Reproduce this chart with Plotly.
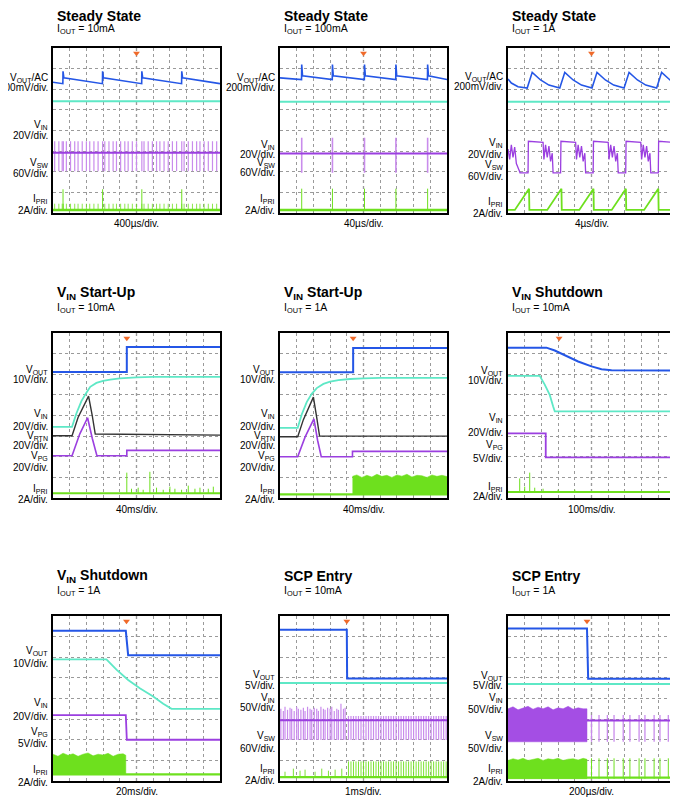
import plotly.graph_objects as go

OFF = 8  # page body margin
W, H = 678 - OFF, 800 - OFF
COLS = [(53, 220), (280, 447), (508, 675)]
ROWS = [(48, 213), (333, 498), (616, 781)]

BLUE = "#2456e6"; CYAN = "#5ee8c6"; PURPLE = "#9b3fe0"; LPURPLE = "#c98cec"
GREEN = "#6ee01e"; BLACK = "#333333"; ORANGE = "#f06a2a"

# ---------- data (in scope divisions: x 0..10, y 0..8) ----------
titles = ["Steady State", "Steady State", "Steady State",
          "V<sub>IN</sub> Start-Up", "V<sub>IN</sub> Start-Up", "V<sub>IN</sub> Shutdown",
          "V<sub>IN</sub> Shutdown", "SCP Entry", "SCP Entry"]
subtitles = ["10mA", "100mA", "1A", "10mA", "1A", "10mA", "1A", "10mA", "1A"]
timebase = ["400µs/div.", "40µs/div.", "4µs/div.", "40ms/div.", "40ms/div.", "100ms/div.",
            "20ms/div.", "1ms/div.", "200µs/div."]
trigger_x = [5.0, 5.0, 5.0, 4.42, 4.38, 3.06, 4.4, 4.0, 4.73]

# panel 1
p1_jumps = [0.6, 2.97, 5.32, 7.71]
p1_vout = (6.34, 6.87, 6.55, 6.27)  # base, spike, after, before
p1_vin = 5.42
p1_sw = [0.1, 0.35, 0.55, 0.62, 0.8, 1.05, 1.3, 1.5, 1.75, 2.0, 2.2, 2.45, 2.7, 2.97, 3.1, 3.35,
         3.6, 3.8, 4.05, 4.3, 4.5, 4.75, 5.0, 5.32, 5.45, 5.7, 5.95, 6.2, 6.4, 6.65, 6.9, 7.15,
         7.4, 7.71, 7.85, 8.1, 8.35, 8.6, 8.8, 9.05, 9.3, 9.55, 9.8]
p1_sw_level = (2.03, 2.92, 3.48)
p1_ipri = (0.15, 1.15, 0.45)
# panel 2
p2_jumps = [1.3, 3.14, 5.06, 6.94, 8.84]
p2_vout = (6.55, 7.2, 6.65, 6.47)
p2_vin = 5.39
p2_sw_level = (1.95, 2.89, 3.65)
p2_ipri = (0.15, 1.18)
# panel 3
p3_peaks = [1.45, 3.4, 5.33, 7.25, 9.2]
p3_vout = (6.06, 6.82)
p3_vin = 5.39
p3_sw_rise = [1.2, 3.15, 5.1, 7.05, 9.0]
p3_sw_level = (1.95, 3.48)
p3_ipri_peaks = [1.26, 3.2, 5.12, 7.06, 9.0]
p3_ipri = (0.15, 1.18)
# panel 4
p4_vout_x = [0, 4.42, 4.42, 10]; p4_vout_y = [6.11, 6.11, 7.32, 7.32]
p4_vin_x = [0, 1.14, 1.4, 1.7, 2.0, 2.23, 2.6, 3.0, 3.43, 4.0, 5.0, 6.0, 10]
p4_vin_y = [3.45, 3.45, 4.1, 4.7, 5.1, 5.39, 5.58, 5.68, 5.74, 5.8, 5.85, 5.87, 5.87]
p4_rtn_x = [0, 1.14, 1.5, 1.9, 2.13, 2.35, 2.53, 10]
p4_rtn_y = [3.02, 3.02, 3.9, 4.6, 4.94, 4.0, 3.1, 3.05]
p4_pg_x = [0, 1.14, 1.6, 2.07, 2.35, 2.63, 4.42, 4.42, 10]
p4_pg_y = [2.05, 2.05, 3.1, 3.89, 2.9, 2.05, 2.05, 2.31, 2.31]
p4_ipri_base = 0.23
p4_spk_x = [4.42, 4.7, 5.1, 5.4, 5.8, 6.2, 6.6, 7.0, 7.3, 7.7, 8.1, 8.5, 8.8, 9.3, 9.6]
p4_spk_y = [1.23, 0.45, 0.5, 0.4, 1.27, 0.5, 0.4, 0.55, 0.45, 0.4, 0.6, 0.45, 0.5, 0.45, 0.55]
# panel 5
p5_vout_x = [0, 4.38, 4.38, 10]; p5_vout_y = [6.1, 6.1, 7.27, 7.27]
p5_vin_x = [0, 1.06, 1.3, 1.6, 1.9, 2.2, 2.6, 3.0, 3.5, 4.2, 5.0, 6.0, 10]
p5_vin_y = [3.4, 3.4, 4.05, 4.65, 5.05, 5.33, 5.53, 5.64, 5.71, 5.77, 5.8, 5.82, 5.82]
p5_rtn_x = [0, 1.06, 1.4, 1.8, 2.0, 2.2, 2.37, 10]
p5_rtn_y = [2.97, 2.97, 3.8, 4.55, 4.89, 3.9, 3.0, 3.0]
p5_pg_x = [0, 1.06, 1.5, 2.03, 2.25, 2.47, 4.34, 4.34, 10]
p5_pg_y = [2.0, 2.0, 2.95, 3.84, 2.8, 2.0, 2.0, 2.26, 2.26]
p5_ipri_base = 0.18
p5_fill_x = [4.34, 4.6, 4.9, 5.2, 5.5, 5.8, 6.1, 6.4, 6.7, 7.0, 7.3, 7.6, 7.9, 8.2, 8.5, 8.8, 9.1, 9.4, 9.7, 10]
p5_fill_top = [1.05, 1.12, 1.0, 1.1, 1.02, 1.15, 1.05, 1.1, 1.0, 1.12, 1.06, 1.15, 1.02, 1.1, 1.08, 1.0, 1.12, 1.05, 1.1, 1.04]
# panel 6
p6_vout_x = [0, 2.3, 2.8, 3.5, 4.2, 5.0, 5.6, 6.2, 10]
p6_vout_y = [7.29, 7.29, 7.15, 6.9, 6.62, 6.38, 6.24, 6.2, 6.18]
p6_vin_x = [0, 1.9, 2.2, 2.5, 2.7, 2.8, 10]
p6_vin_y = [5.92, 5.92, 5.5, 5.0, 4.45, 4.2, 4.2]
p6_pg_x = [0, 2.26, 2.26, 10]; p6_pg_y = [3.13, 3.13, 1.97, 1.97]
p6_ipri_base = 0.29
p6_spk_x = [0.7, 1.0, 1.3, 1.6, 2.1, 3.0, 4.0]
p6_spk_y = [0.95, 0.55, 1.23, 0.5, 0.45, 0.4, 0.4]
# panel 7
p7_vout_x = [0, 4.36, 4.5, 10]; p7_vout_y = [7.28, 7.28, 6.1, 6.1]
p7_vin_x = [0, 3.2, 3.8, 4.5, 5.2, 6.0, 6.6, 7.1, 10]
p7_vin_y = [5.9, 5.9, 5.4, 4.9, 4.5, 4.1, 3.75, 3.5, 3.5]
p7_pg_x = [0, 4.36, 4.42, 10]; p7_pg_y = [3.19, 3.19, 2.0, 2.0]
p7_ipri_base = 0.32
p7_fill_x = [0, 0.3, 0.6, 0.9, 1.2, 1.5, 1.8, 2.1, 2.4, 2.7, 3.0, 3.3, 3.6, 3.9, 4.2, 4.36]
p7_fill_top = [1.3, 1.2, 1.35, 1.25, 1.32, 1.2, 1.3, 1.36, 1.22, 1.3, 1.26, 1.34, 1.2, 1.3, 1.32, 1.25]
# panel 8
p8_vout_x = [0, 4.0, 4.02, 10]; p8_vout_y = [7.33, 7.33, 4.97, 4.97]
p8_vin = 4.75
p8_sw_center = 2.95
p8_sw_a = [0.05, 0.2, 0.3, 0.45, 0.6, 0.7, 0.85, 1.0, 1.1, 1.25, 1.4, 1.5, 1.65, 1.8, 1.9, 2.05,
           2.2, 2.3, 2.45, 2.6, 2.7, 2.85, 3.0, 3.1, 3.25, 3.4, 3.5, 3.65, 3.8, 3.9]
p8_sw_a_top = [3.5, 3.4, 3.6, 3.45, 3.55, 3.5, 3.4, 3.6, 3.5, 3.45, 3.55, 3.4, 3.6, 3.5, 3.45, 3.55,
               3.5, 3.4, 3.6, 3.5, 3.45, 3.55, 3.5, 3.6, 3.4, 3.5, 3.45, 3.75, 3.5, 3.55]
p8_sw_b = [4.1, 4.25, 4.4, 4.55, 4.7, 4.85, 5.0, 5.15, 5.3, 5.45, 5.6, 5.75, 5.9, 6.05, 6.2, 6.35,
           6.5, 6.65, 6.8, 6.95, 7.1, 7.25, 7.4, 7.55, 7.7, 7.85, 8.0, 8.15, 8.3, 8.45, 8.6, 8.75,
           8.9, 9.05, 9.2, 9.35, 9.5, 9.65, 9.8, 9.95]
p8_sw_lo = 1.99
p8_sw_b_top = 3.15
p8_ipri_base = 0.19
p8_ip_a = [0.3, 0.8, 1.2, 1.5, 2.1, 2.5, 2.9, 3.3, 3.7]
p8_ip_a_top = [0.45, 0.6, 0.5, 0.55, 0.45, 0.6, 0.5, 0.55, 0.6]
p8_ip_b_top = 0.95
# panel 9
p9_vout_x = [0, 4.73, 4.8, 10]; p9_vout_y = [7.4, 7.4, 4.96, 4.96]
p9_vin = 4.7
p9_fill_x = [0, 0.3, 0.6, 0.9, 1.2, 1.5, 1.8, 2.1, 2.4, 2.7, 3.0, 3.3, 3.6, 3.9, 4.2, 4.5, 4.73]
p9_sw_top = [3.5, 3.6, 3.45, 3.55, 3.62, 3.48, 3.58, 3.5, 3.6, 3.45, 3.55, 3.5, 3.62, 3.48, 3.55, 3.5, 3.5]
p9_sw_bot = 1.9
p9_ip_top = [1.0, 1.08, 1.02, 1.1, 1.0, 1.06, 1.1, 1.0, 1.08, 1.04, 1.1, 1.0, 1.06, 1.08, 1.02, 1.1, 1.05]
p9_ip_bot = 0.11
p9_sw_center = 2.93
p9_pulses = [5.0, 5.45, 5.95, 6.35, 6.9, 7.3, 7.85, 8.2, 8.75, 9.1, 9.6]
p9_sw_levels = (1.9, 3.2)
p9_ip_spk = 1.1

# left labels: (text, y_px) per panel
labels = [
    [("V<sub>OUT</sub>/AC", 78), ("200mV/div.", 88), ("V<sub>IN</sub>", 125), ("20V/div.", 135),
     ("V<sub>SW</sub>", 163), ("60V/div.", 173), ("I<sub>PRI</sub>", 199), ("2A/div.", 211)],
    [("V<sub>OUT</sub>/AC", 78), ("200mV/div.", 88), ("V<sub>IN</sub>", 145), ("20V/div.", 154),
     ("V<sub>SW</sub>", 163), ("60V/div.", 172), ("I<sub>PRI</sub>", 199), ("2A/div.", 211)],
    [("V<sub>OUT</sub>/AC", 77), ("200mV/div.", 87), ("V<sub>IN</sub>", 143), ("20V/div.", 154),
     ("V<sub>SW</sub>", 165), ("60V/div.", 177), ("I<sub>PRI</sub>", 202), ("2A/div.", 213)],
    [("V<sub>OUT</sub>", 370), ("10V/div.", 379), ("V<sub>IN</sub>", 414), ("20V/div.", 426),
     ("V<sub>RTN</sub>", 436), ("20V/div.", 445), ("V<sub>PG</sub>", 456), ("20V/div.", 467),
     ("I<sub>PRI</sub>", 489), ("2A/div.", 499)],
    [("V<sub>OUT</sub>", 370), ("10V/div.", 379), ("V<sub>IN</sub>", 414), ("20V/div.", 426),
     ("V<sub>RTN</sub>", 436), ("20V/div.", 445), ("V<sub>PG</sub>", 456), ("20V/div.", 467),
     ("I<sub>PRI</sub>", 489), ("2A/div.", 499)],
    [("V<sub>OUT</sub>", 371), ("10V/div.", 380), ("V<sub>IN</sub>", 418), ("20V/div.", 432),
     ("V<sub>PG</sub>", 445), ("5V/div.", 458), ("I<sub>PRI</sub>", 487), ("2A/div.", 496)],
    [("V<sub>OUT</sub>", 651), ("10V/div.", 663), ("V<sub>IN</sub>", 703), ("20V/div.", 716),
     ("V<sub>PG</sub>", 732), ("5V/div.", 743), ("I<sub>PRI</sub>", 770), ("2A/div.", 782)],
    [("V<sub>OUT</sub>", 675), ("5V/div.", 685), ("V<sub>IN</sub>", 698), ("50V/div.", 707),
     ("V<sub>SW</sub>", 736), ("60V/div.", 748), ("I<sub>PRI</sub>", 769), ("2A/div.", 780)],
    [("V<sub>OUT</sub>", 676), ("5V/div.", 685), ("V<sub>IN</sub>", 698), ("50V/div.", 709),
     ("V<sub>SW</sub>", 736), ("50V/div.", 748), ("I<sub>PRI</sub>", 769), ("2A/div.", 781)],
]

# ---------- figure ----------
fig = go.Figure()
FONT = "Liberation Sans, Arial, sans-serif"
NARROW = "Liberation Sans Narrow, Liberation Sans, Arial, sans-serif"


def px_x(p):
    return (p - OFF) / W


def px_y(p):
    return 1 - (p - OFF) / H


def ax(i):
    return ("x" if i == 0 else f"x{i+1}"), ("y" if i == 0 else f"y{i+1}")


def line(i, xs, ys, color, width=1.6, opacity=1.0):
    xa, ya = ax(i)
    fig.add_trace(go.Scatter(x=xs, y=ys, mode="lines", line=dict(color=color, width=width),
                             opacity=opacity, xaxis=xa, yaxis=ya, hoverinfo="skip"))


def pulses(i, xs, lo, hi, color, width=1.0):
    px, py = [], []
    his = hi if isinstance(hi, list) else [hi] * len(xs)
    for x, h in zip(xs, his):
        px += [x, x, None]; py += [lo, h, None]
    line(i, px, py, color, width)


def band(i, xs, tops, bot, color):
    xa, ya = ax(i)
    fig.add_trace(go.Scatter(x=xs + xs[::-1], y=tops + [bot] * len(xs), mode="lines",
                             fill="toself", fillcolor=color, line=dict(color=color, width=0.5),
                             xaxis=xa, yaxis=ya, hoverinfo="skip"))


def saw(jumps, lv):
    base, spike, after, before = lv
    xs, ys = [0], [base]
    for j in jumps:
        xs += [j - 0.01, j, j + 0.05]; ys += [before, spike, after]
    xs.append(10); ys.append(before)
    return xs, ys


# panel 1
xs, ys = saw(p1_jumps, p1_vout); line(0, xs, ys, BLUE)
line(0, [0, 10], [p1_vin] * 2, CYAN, 2)
pulses(0, p1_sw, p1_sw_level[0], p1_sw_level[2], LPURPLE, 1.2)
line(0, [0, 10], [p1_sw_level[1]] * 2, PURPLE, 2)
pulses(0, p1_sw, p1_ipri[0], p1_ipri[2], GREEN, 0.8)
pulses(0, p1_jumps, p1_ipri[0], p1_ipri[1], GREEN, 1)
line(0, [0, 10], [p1_ipri[0]] * 2, GREEN, 2.5)
# panel 2
xs, ys = saw(p2_jumps, p2_vout); line(1, xs, ys, BLUE)
line(1, [0, 10], [p2_vin] * 2, CYAN, 2)
pulses(1, p2_jumps, p2_sw_level[0], p2_sw_level[2], LPURPLE, 1.6)
line(1, [0, 10], [p2_sw_level[1]] * 2, PURPLE, 2)
pulses(1, p2_jumps, p2_ipri[0], p2_ipri[1], GREEN, 1)
line(1, [0, 10], [p2_ipri[0]] * 2, GREEN, 2.5)
# panel 3
xs, ys = [0, 0.2, 0.6, 1.15], [6.5, 6.3, 6.12, p3_vout[0]]
for k, pk in enumerate(p3_peaks):
    xs += [pk, pk + 0.5, pk + 1.0]; ys += [p3_vout[1], 6.45, 6.2]
    nxt = p3_peaks[k + 1] - 0.3 if k + 1 < len(p3_peaks) else 10
    xs.append(nxt); ys.append(p3_vout[0])
line(2, xs, ys, BLUE)
line(2, [0, 10], [p3_vin] * 2, CYAN, 2)
lo, hi = p3_sw_level
xs, ys = [0, 0.1, 0.2, 0.3, 0.4, 0.5, 0.7, 0.72, 1.18], [3.1, 2.6, 3.3, 2.7, 3.2, 2.4, 2.0, lo, lo]
for r in p3_sw_rise:
    xs += [r, r + 0.02, r + 0.9, r + 0.95, r + 1.05, r + 1.15, r + 1.25, r + 1.35, r + 1.45, r + 1.5]
    ys += [lo, hi, hi - 0.05, 2.6, 3.3, 2.7, 3.25, 2.5, 2.9, lo]
keep = [k for k, x in enumerate(xs) if x <= 10]
line(2, [xs[k] for k in keep], [ys[k] for k in keep], PURPLE, 1.3)
xs, ys = [0], [p3_ipri[0]]
for pk in p3_ipri_peaks:
    xs += [pk - 0.85, pk, pk + 0.02]; ys += [p3_ipri[0], p3_ipri[1], p3_ipri[0]]
xs.append(10); ys.append(p3_ipri[0])
line(2, xs, ys, GREEN, 1.8)
# panel 4
line(3, p4_vout_x, p4_vout_y, BLUE, 2)
line(3, p4_vin_x, p4_vin_y, CYAN, 1.8)
line(3, p4_rtn_x, p4_rtn_y, BLACK, 1.4)
line(3, p4_pg_x, p4_pg_y, PURPLE, 1.6)
pulses(3, p4_spk_x, p4_ipri_base, p4_spk_y, GREEN, 1)
line(3, [0, 10], [p4_ipri_base] * 2, GREEN, 2.2)
# panel 5
line(4, p5_vout_x, p5_vout_y, BLUE, 2)
line(4, p5_vin_x, p5_vin_y, CYAN, 1.8)
line(4, p5_rtn_x, p5_rtn_y, BLACK, 1.4)
line(4, p5_pg_x, p5_pg_y, PURPLE, 1.6)
band(4, p5_fill_x, p5_fill_top, p5_ipri_base, GREEN)
line(4, [0, 10], [p5_ipri_base] * 2, GREEN, 2.2)
# panel 6
line(5, p6_vout_x, p6_vout_y, BLUE, 2)
line(5, p6_vin_x, p6_vin_y, CYAN, 1.8)
line(5, p6_pg_x, p6_pg_y, PURPLE, 1.8)
pulses(5, p6_spk_x, p6_ipri_base, p6_spk_y, GREEN, 1)
line(5, [0, 10], [p6_ipri_base] * 2, GREEN, 2.2)
# panel 7
line(6, p7_vout_x, p7_vout_y, BLUE, 2)
line(6, p7_vin_x, p7_vin_y, CYAN, 1.8)
line(6, p7_pg_x, p7_pg_y, PURPLE, 1.8)
band(6, p7_fill_x, p7_fill_top, p7_ipri_base, GREEN)
line(6, [0, 10], [p7_ipri_base] * 2, GREEN, 2.2)
# panel 8
line(7, p8_vout_x, p8_vout_y, BLUE, 2)
line(7, [0, 10], [p8_vin] * 2, CYAN, 2)
pulses(7, p8_sw_a, p8_sw_lo, p8_sw_a_top, LPURPLE, 1.2)
pulses(7, p8_sw_b, p8_sw_lo, p8_sw_b_top, LPURPLE, 1.2)
line(7, [0, 10], [p8_sw_center] * 2, PURPLE, 2)
pulses(7, p8_ip_a, p8_ipri_base, p8_ip_a_top, GREEN, 0.9)
pulses(7, p8_sw_b, p8_ipri_base, p8_ip_b_top, GREEN, 0.9)
line(7, [0, 10], [p8_ipri_base] * 2, GREEN, 2.2)
# panel 9
line(8, p9_vout_x, p9_vout_y, BLUE, 2)
line(8, [0, 10], [p9_vin] * 2, CYAN, 2)
band(8, p9_fill_x, p9_sw_top, p9_sw_bot, "#a44ee4")
pulses(8, p9_pulses, p9_sw_levels[0], p9_sw_levels[1], LPURPLE, 1.3)
line(8, [p9_fill_x[-1], 10], [p9_sw_center] * 2, PURPLE, 2)
band(8, p9_fill_x, p9_ip_top, p9_ip_bot, GREEN)
pulses(8, p9_pulses, p9_ip_bot, p9_ip_spk, GREEN, 1)
line(8, [0, 10], [p9_ip_bot + 0.05] * 2, GREEN, 2.2)

annotations, shapes = [], []
for i in range(9):
    r, c = divmod(i, 3)
    x0, x1 = COLS[c]; y0, y1 = ROWS[r]
    xa, ya = ax(i)
    kx = "xaxis" if i == 0 else f"xaxis{i+1}"
    ky = "yaxis" if i == 0 else f"yaxis{i+1}"
    common = dict(showgrid=True, gridcolor="#9a9a9a", griddash="dot", gridwidth=1, dtick=1,
                  zeroline=False, showticklabels=False, ticks="", showline=True, mirror=True,
                  linecolor="black", linewidth=1.5, fixedrange=True)
    fig.layout[kx] = dict(domain=[px_x(x0), min(0.997, px_x(x1))], range=[0, 10], anchor=ya, **common)
    fig.layout[ky] = dict(domain=[px_y(y1), px_y(y0)], range=[0, 8], anchor=xa, **common)
    shapes.append(dict(type="line", xref=xa, yref=ya, x0=5, x1=5, y0=0, y1=8,
                       line=dict(color="#555", width=1.2, dash="dot"), layer="below"))
    shapes.append(dict(type="line", xref=xa, yref=ya, x0=0, x1=10, y0=4, y1=4,
                       line=dict(color="#555", width=1.2, dash="dot"), layer="below"))
    fig.add_trace(go.Scatter(x=[trigger_x[i]], y=[7.75], mode="markers",
                             marker=dict(symbol="triangle-down", size=6, color=ORANGE),
                             xaxis=xa, yaxis=ya, hoverinfo="skip"))
    tx = x0 + 2
    ty = max(y0 - 40, 16)
    sy = max(y0 - 25, 29)
    annotations.append(dict(text="<b>" + titles[i] + "</b>", x=px_x(tx), y=px_y(ty),
                            xref="paper", yref="paper", xanchor="left", yanchor="middle",
                            showarrow=False, font=dict(size=14, family=FONT, color="black")))
    annotations.append(dict(text="I<sub>OUT</sub> = " + subtitles[i], x=px_x(tx),
                            y=px_y(sy), xref="paper", yref="paper", xanchor="left",
                            yanchor="middle", showarrow=False,
                            font=dict(size=10.5, family=FONT, color="black")))
    annotations.append(dict(text=timebase[i], x=px_x((x0 + x1) / 2), y=px_y(min(y1 + 11, 791)),
                            xref="paper", yref="paper", xanchor="center", yanchor="middle",
                            showarrow=False, font=dict(size=10, family=FONT, color="black")))
    for txt, ypx in labels[i]:
        annotations.append(dict(text=txt, x=px_x(x0 - 3), y=px_y(ypx), xref="paper",
                                yref="paper", xanchor="right", yanchor="middle",
                                showarrow=False, font=dict(size=10, family=NARROW, color="black")))

fig.update_layout(width=W, height=H, margin=dict(l=0, r=0, t=0, b=0), showlegend=False,
                  plot_bgcolor="white", paper_bgcolor="white",
                  annotations=annotations, shapes=shapes)
fig.write_html("out.html")
